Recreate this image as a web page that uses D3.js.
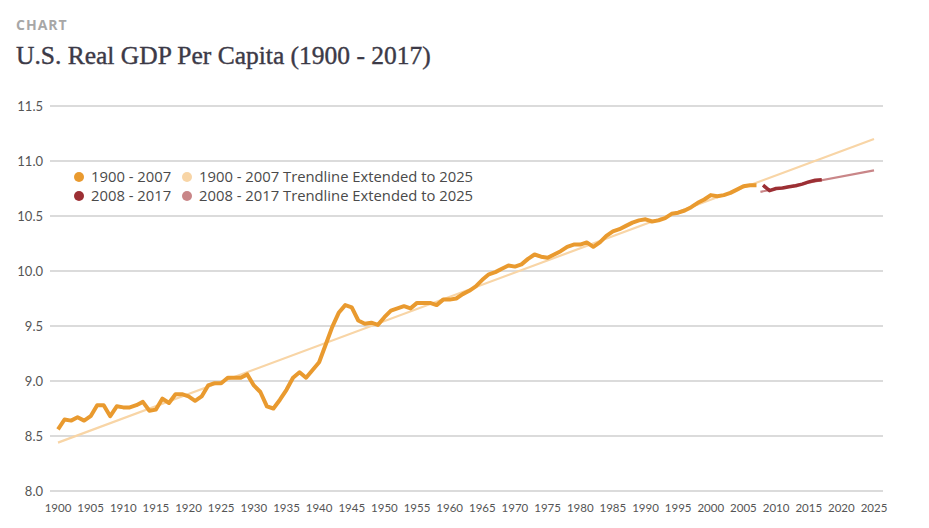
<!DOCTYPE html>
<html>
<head>
<meta charset="utf-8">
<script src="https://cdn.jsdelivr.net/npm/d3@7"></script>
<style>
  body { margin: 0; background: #fff; }
  svg { display: block; }
</style>
</head>
<body>
<svg width="929" height="528"></svg>
<script>
// yearly values
var years1 = d3.range(1900, 2008);
var gdp1 = [
  8.56, 8.65, 8.64, 8.67, 8.64, 8.68, 8.78, 8.78, 8.68, 8.77,
  8.76, 8.76, 8.78, 8.81, 8.73, 8.74, 8.84, 8.80, 8.88, 8.88,
  8.86, 8.82, 8.86, 8.96, 8.98, 8.98, 9.03, 9.03, 9.03, 9.06,
  8.96, 8.90, 8.77, 8.75, 8.83, 8.92, 9.03, 9.08, 9.03, 9.10,
  9.17, 9.33, 9.49, 9.62, 9.69, 9.67, 9.55, 9.52, 9.53, 9.51,
  9.58, 9.64, 9.66, 9.68, 9.66, 9.71, 9.71, 9.71, 9.69, 9.74,
  9.74, 9.75, 9.79, 9.82, 9.86, 9.92, 9.97, 9.99, 10.02, 10.05,
  10.04, 10.06, 10.11, 10.15, 10.13, 10.12, 10.15, 10.18, 10.22, 10.24,
  10.24, 10.26, 10.22, 10.26, 10.32, 10.36, 10.38, 10.41, 10.44, 10.46,
  10.47, 10.45, 10.46, 10.48, 10.52, 10.53, 10.55, 10.58, 10.62, 10.65,
  10.69, 10.68, 10.69, 10.71, 10.74, 10.77, 10.78, 10.78
];
var years2 = d3.range(2008, 2018);
var gdp2 = [10.78, 10.73, 10.75, 10.755, 10.765, 10.775, 10.79, 10.81, 10.825, 10.83];

var trend1Years = [1900, 2025];
var trend1 = [8.44, 11.20];
var trend2Years = [2007.6, 2025];
var trend2 = [10.72, 10.915];

var yTicks = [8.0, 8.5, 9.0, 9.5, 10.0, 10.5, 11.0, 11.5];
var xTicks = d3.range(1900, 2026, 5);

var legendItems = [
  {label: "1900 - 2007", color: "#e99a2f", col: 0, row: 0},
  {label: "1900 - 2007 Trendline Extended to 2025", color: "#f8d5a6", col: 1, row: 0},
  {label: "2008 - 2017", color: "#9c2f34", col: 0, row: 1},
  {label: "2008 - 2017 Trendline Extended to 2025", color: "#c98688", col: 1, row: 1}
];

var svg = d3.select("svg");

svg.append("text")
  .attr("x", 16).attr("y", 30)
  .style("font-family", "'Open Sans', sans-serif")
  .style("font-weight", "bold")
  .style("font-size", "14px")
  .style("letter-spacing", "1px")
  .style("fill", "#a7a7a7")
  .text("CHART");

svg.append("text")
  .attr("x", 16).attr("y", 64)
  .style("font-family", "'Liberation Serif', serif")
  .style("font-size", "25.5px")
  .style("fill", "#3c3a47")
  .style("stroke", "#3c3a47")
  .style("stroke-width", "0.4px")
  .text("U.S. Real GDP Per Capita (1900 - 2017)");

var x = d3.scaleLinear().domain([1900, 2025]).range([58, 874]);
var y = d3.scaleLinear().domain([8, 11.5]).range([491, 106]);

// gridlines
svg.append("g")
  .selectAll("line")
  .data(yTicks)
  .join("line")
    .attr("x1", 50).attr("x2", 883)
    .attr("y1", d => y(d)).attr("y2", d => y(d))
    .attr("stroke", "#cfcfcf")
    .attr("stroke-width", 1.3);

// y labels
svg.append("g")
  .selectAll("text")
  .data(yTicks)
  .join("text")
    .attr("x", 43)
    .attr("y", d => y(d))
    .attr("dy", "0.35em")
    .attr("text-anchor", "end")
    .style("font-family", "Lato, sans-serif")
    .style("font-size", "13px")
    .style("fill", "#555")
    .text(d => d3.format(".1f")(d));

// x labels
svg.append("g")
  .selectAll("text")
  .data(xTicks)
  .join("text")
    .attr("x", d => x(d))
    .attr("y", 512)
    .attr("text-anchor", "middle")
    .style("font-family", "Lato, sans-serif")
    .style("font-size", "11.5px")
    .style("fill", "#555")
    .text(d => d);

var line = d3.line()
  .x(d => x(d[0]))
  .y(d => y(d[1]));

svg.append("path")
  .datum(d3.zip(trend1Years, trend1))
  .attr("d", line)
  .attr("fill", "none")
  .attr("stroke", "#f8d5a6")
  .attr("stroke-width", 2.2);

svg.append("path")
  .datum(d3.zip(years1, gdp1))
  .attr("d", line)
  .attr("fill", "none")
  .attr("stroke", "#e99a2f")
  .attr("stroke-width", 4)
  .attr("stroke-linejoin", "round");

svg.append("path")
  .datum(d3.zip(trend2Years, trend2))
  .attr("d", line)
  .attr("fill", "none")
  .attr("stroke", "#c98688")
  .attr("stroke-width", 2.2);

svg.append("path")
  .datum(d3.zip(years2, gdp2))
  .attr("d", line)
  .attr("fill", "none")
  .attr("stroke", "#9c2f34")
  .attr("stroke-width", 3.5)
  .attr("stroke-linejoin", "round");

// legend
var legend = svg.append("g");
var item = legend.selectAll("g")
  .data(legendItems)
  .join("g")
    .attr("transform", d => "translate(" + (d.col ? 187 : 79) + "," + (d.row ? 196 : 177) + ")");
item.append("circle")
  .attr("r", 5)
  .attr("fill", d => d.color);
item.append("text")
  .attr("x", 12)
  .attr("dy", "0.35em")
  .style("font-family", "'Open Sans', sans-serif")
  .style("font-size", "14.8px")
  .style("fill", "#4a4a4a")
  .text(d => d.label);
</script>
</body>
</html>
